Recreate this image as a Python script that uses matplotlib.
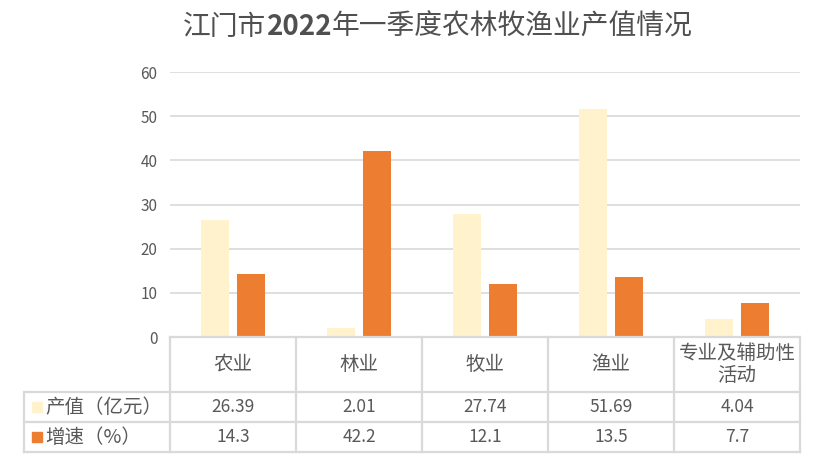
import matplotlib
matplotlib.use('Agg')
import matplotlib.pyplot as plt
import numpy as np

plt.rcParams['font.family'] = ['Noto Sans CJK SC', 'DejaVu Sans']

# ---------------- data ----------------
categories = ['农业', '林业', '牧业', '渔业', '专业及辅助性\n活动']
output_values = [26.39, 2.01, 27.74, 51.69, 4.04]
growth_rates = [14.3, 42.2, 12.1, 13.5, 7.7]
output_labels = ['26.39', '2.01', '27.74', '51.69', '4.04']
growth_labels = ['14.3', '42.2', '12.1', '13.5', '7.7']
series_names = ['产值（亿元）', '增速（%）']
y_ticks = [0, 10, 20, 30, 40, 50, 60]
title_parts = [('江门市', 'normal'), ('2022', 'bold'), ('年一季度农林牧渔业产值情况', 'normal')]

# ---------------- style ----------------
W, H = 816, 465
c_light = '#FFF2CC'
c_orange = '#ED7D31'
c_text = '#595959'
c_title = '#505050'
c_grid = '#D9D9D9'

fig = plt.figure(figsize=(W / 100, H / 100), dpi=100)

# plot area in pixels
px_l, px_r, px_t, px_b = 170, 800, 72, 337
ax = fig.add_axes([px_l / W, 1 - px_b / H, (px_r - px_l) / W, (px_b - px_t) / H])

x = np.arange(len(categories))
bw = 0.22
off = 0.143
ax.bar(x - off, output_values, width=bw, color=c_light, zorder=3)
ax.bar(x + off, growth_rates, width=bw, color=c_orange, zorder=3)

ax.set_xlim(-0.5, len(categories) - 0.5)
ax.set_ylim(0, 60)
ax.set_yticks(y_ticks)
ax.set_xticks([])
ax.tick_params(axis='y', length=0, pad=9, labelsize=11, labelcolor=c_text)
ax.grid(axis='y', color=c_grid, linewidth=1.2, zorder=0)
for s in ax.spines.values():
    s.set_visible(False)

# ---------------- title (digits in bold) ----------------
renderer = fig.canvas.get_renderer()
pieces = []
for txt, wt in title_parts:
    pieces.append(fig.text(0, 1 - 27 / H, txt, ha='left', va='center', fontsize=20,
                           fontweight=wt, color=c_title))
widths = [p.get_window_extent(renderer).width for p in pieces]
cur = 438 - sum(widths) / 2
for p, w in zip(pieces, widths):
    p.set_x(cur / W)
    cur += w

# ---------------- data table ----------------
tab = fig.add_axes([0, 0, 1, 1])
tab.set_xlim(0, W)
tab.set_ylim(H, 0)
tab.axis('off')

col_w = (px_r - px_l) / len(categories)
row_head = (337, 392)
row1 = (392, 422)
row2 = (422, 452)
left_x = 24
lw = 1.6

# horizontal lines
tab.plot([px_l, px_r], [337, 337], color=c_grid, lw=lw)
for yy in (392, 422, 452):
    tab.plot([left_x, px_r], [yy, yy], color=c_grid, lw=lw)
# vertical lines
for i in range(len(categories) + 1):
    xx = px_l + i * col_w
    tab.plot([xx, xx], [337, 452], color=c_grid, lw=lw)
tab.plot([left_x, left_x], [392, 452], color=c_grid, lw=lw)

for i, cat in enumerate(categories):
    cx = px_l + (i + 0.5) * col_w
    tab.text(cx, sum(row_head) / 2, cat, ha='center', va='center', fontsize=14,
             color=c_text, linespacing=1.05)
    tab.text(cx, sum(row1) / 2, output_labels[i], ha='center', va='center', fontsize=12.5, color=c_text)
    tab.text(cx, sum(row2) / 2, growth_labels[i], ha='center', va='center', fontsize=12.5, color=c_text)

# legend keys
for (y0, y1), name, col in zip((row1, row2), series_names, (c_light, c_orange)):
    yc = (y0 + y1) / 2
    tab.add_patch(plt.Rectangle((32, yc - 5), 10, 10, color=col))
    tab.text(45, yc, name, ha='left', va='center', fontsize=14, color=c_text)

fig.savefig('out.png', dpi=100)
